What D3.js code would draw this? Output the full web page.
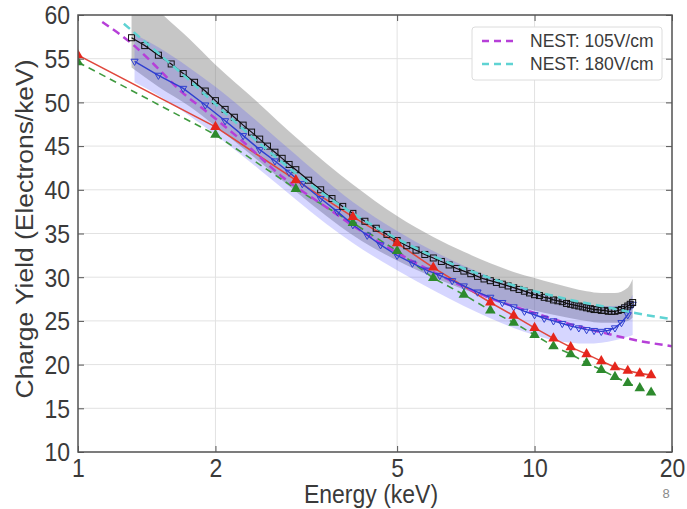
<!DOCTYPE html>
<html>
<head>
<meta charset="utf-8">
<script src="https://cdn.jsdelivr.net/npm/d3@7"></script>
<style>
  body { margin: 0; background: #fff; }
  svg { display: block; }
  text { font-family: "Liberation Sans", Arial, sans-serif; }
</style>
</head>
<body>
<svg id="chart" width="687" height="509"></svg>
<script>
/* ------------------------------- data ------------------------------- */
const xTicks = [1, 2, 5, 10, 20];
const yTicks = [10, 15, 20, 25, 30, 35, 40, 45, 50, 55, 60];

// measured yield, black open squares (centre of grey band)
const blackE = [1.31, 1.4, 1.5, 1.6, 1.7, 1.8, 1.9, 2.0, 2.1, 2.2, 2.3, 2.4, 2.5, 2.6, 2.7, 2.8, 2.9, 3.0,
  3.2, 3.4, 3.6, 3.8, 4.0, 4.25, 4.5, 4.75, 5.0, 5.25, 5.5, 5.75, 6.0, 6.25, 6.5, 6.75, 7.0, 7.25, 7.5, 7.75,
  8.0, 8.25, 8.5, 8.75, 9.0, 9.25, 9.5, 9.75, 10, 10.25, 10.5, 10.75, 11, 11.25, 11.5, 11.75, 12, 12.25,
  12.5, 12.75, 13, 13.25, 13.5, 13.75, 14, 14.25, 14.5, 14.75, 15, 15.25, 15.5, 15.75, 16, 16.2, 16.4];
const blackY = [57.4, 56.5, 55.4, 54.4, 53.3, 52.3, 51.3, 50.2, 49.2, 48.3, 47.4, 46.6, 45.8, 45.0, 44.3, 43.6, 42.9, 42.3,
  41.1, 40.0, 39.0, 38.1, 37.3, 36.4, 35.6, 34.9, 34.2, 33.6, 33.1, 32.6, 32.2, 31.8, 31.4, 31.0, 30.7, 30.4, 30.1, 29.8,
  29.6, 29.4, 29.2, 29.0, 28.8, 28.6, 28.4, 28.2, 28.0, 27.9, 27.7, 27.6, 27.4, 27.3, 27.2, 27.0, 26.9, 26.8,
  26.7, 26.6, 26.5, 26.4, 26.3, 26.3, 26.2, 26.2, 26.1, 26.1, 26.1, 26.2, 26.3, 26.5, 26.7, 26.9, 27.1];

// grey band around black squares
const greyE = [1.31, 1.5, 1.75, 2, 2.5, 3, 3.5, 4, 5, 6, 7, 8, 9, 10, 11, 12, 13, 14, 15, 16, 16.4];
const greyHi = [63.5, 60.5, 57.3, 54.3, 49.8, 46.0, 43.0, 40.6, 37.0, 34.6, 32.9, 31.6, 30.6, 29.9, 29.3, 28.8, 28.4, 28.2, 28.2, 28.8, 29.8];
const greyLo = [54.0, 51.8, 49.6, 47.3, 43.2, 39.8, 37.0, 34.8, 31.9, 30.0, 28.6, 27.6, 26.8, 26.2, 25.7, 25.3, 25.0, 24.8, 24.8, 25.0, 25.4];

// measured yield, blue open triangles
const blueE = [1.33, 1.5, 1.7, 1.9, 2.1, 2.3, 2.5, 2.7, 2.9, 3.1, 3.4, 3.7, 4.0, 4.3, 4.6, 5.0, 5.4, 5.8, 6.2, 6.6,
  7.0, 7.5, 8.0, 8.5, 9.0, 9.5, 10, 10.5, 11, 11.5, 12, 12.5, 13, 13.5, 14, 14.5, 15, 15.5, 16, 16.4];
const blueY = [54.7, 53.1, 51.6, 49.7, 47.9, 46.2, 44.6, 43.3, 42.0, 40.7, 39.0, 37.5, 36.0, 34.8, 33.7, 32.5, 31.6, 30.8, 30.2, 29.6,
  29.0, 28.3, 27.7, 27.1, 26.6, 26.1, 25.7, 25.3, 25.0, 24.7, 24.4, 24.2, 24.0, 23.9, 23.8, 23.9, 24.2, 24.8, 25.7, 26.9];

// blue band
const blueBandE = [1.33, 1.5, 1.75, 2, 2.5, 3, 3.5, 4, 5, 6, 7, 8, 9, 10, 11, 12, 13, 14, 15, 16, 16.4];
const blueHi = [57.8, 56.3, 54.0, 51.8, 47.6, 44.0, 41.0, 38.6, 35.3, 33.0, 31.3, 30.0, 29.0, 28.3, 27.7, 27.2, 26.9, 26.7, 26.7, 27.2, 28.0];
const blueLo = [52.3, 50.8, 48.5, 46.3, 42.3, 38.9, 36.1, 33.9, 30.8, 28.5, 26.7, 25.3, 24.2, 23.4, 22.8, 22.5, 22.4, 22.5, 22.8, 23.2, 23.4];

// red triangles (solid line)
const redE = [1, 2, 3, 4, 5, 6, 8, 9, 10, 11, 12, 13, 14, 15, 16, 17, 18];
const redY = [55.4, 47.2, 41.1, 36.9, 33.9, 31.1, 27.1, 25.6, 24.2, 23.0, 22.0, 21.2, 20.4, 19.7, 19.3, 19.0, 18.8];

// green triangles (dashed line)
const greenE = [1, 2, 3, 4, 5, 6, 7, 8, 9, 10, 11, 12, 13, 14, 15, 16, 17, 18];
const greenY = [54.6, 46.3, 40.1, 36.2, 33.0, 29.9, 28.0, 26.2, 24.8, 23.4, 22.1, 21.2, 20.2, 19.4, 18.6, 17.9, 17.3, 16.8];

// NEST models
const nest105E = [1.13, 1.32, 1.51, 1.67, 1.95, 2.3, 2.8, 3.5, 4, 5, 6, 7, 8, 10, 12, 14, 17, 20];
const nest105Y = [59.2, 56.6, 53.7, 51.4, 48.6, 45.5, 41.5, 38.0, 35.9, 32.8, 30.6, 28.9, 27.6, 25.9, 24.6, 23.7, 22.7, 22.1];
const nest180E = [1.26, 1.54, 1.73, 2.0, 2.5, 3, 3.5, 4, 5, 6, 7, 8, 10, 12, 14, 16.6, 20];
const nest180Y = [59.0, 55.1, 52.8, 49.8, 45.3, 41.9, 39.3, 37.3, 34.4, 32.4, 31.0, 29.9, 28.4, 27.4, 26.7, 25.9, 25.2];

const legendLabels = ['NEST: 105V/cm', 'NEST: 180V/cm'];

/* ------------------------------ layout ------------------------------ */
const svg = d3.select('#chart');
const x = d3.scaleLog().domain([1, 20]).range([78, 672]);
const y = d3.scaleLinear().domain([10, 60]).range([452, 15]);
const axisColour = '#555';
const textColour = '#3a3a3a';
const stretch = 'scale(1,1.1)'; // source picture is a little taller than wide

const zip = (xs, ys) => xs.map((e, i) => [e, ys[i]]);

svg.append('defs').append('clipPath').attr('id', 'plotClip')
    .append('rect').attr('x', 78).attr('y', 15).attr('width', 594).attr('height', 437);

// grid
const grid = svg.append('g');
grid.selectAll('.gx').data(xTicks).enter().append('line')
    .attr('x1', d => x(d)).attr('x2', d => x(d)).attr('y1', 15).attr('y2', 452)
    .attr('stroke', '#e2e2e2').attr('stroke-width', 1);
grid.selectAll('.gy').data(yTicks).enter().append('line')
    .attr('x1', 78).attr('x2', 672).attr('y1', d => y(d)).attr('y2', d => y(d))
    .attr('stroke', '#e2e2e2').attr('stroke-width', 1);

const plot = svg.append('g').attr('clip-path', 'url(#plotClip)');

// bands
const band = (es, lo, hi) => d3.area().curve(d3.curveMonotoneX)
    .x((d, i) => x(es[i])).y0((d, i) => y(lo[i])).y1((d, i) => y(hi[i]))(es);

plot.append('path').attr('d', band(greyE, greyLo, greyHi))
    .attr('fill', 'rgb(120,120,120)').attr('fill-opacity', 0.42);
plot.append('path').attr('d', band(blueBandE, blueLo, blueHi))
    .attr('fill', 'rgb(70,70,255)').attr('fill-opacity', 0.22);

const line = d3.line().x(d => x(d[0])).y(d => y(d[1]));
const smooth = d3.line().curve(d3.curveMonotoneX).x(d => x(d[0])).y(d => y(d[1]));
const tri = d3.symbol().type(d3.symbolTriangle).size(48);

// green
plot.append('path').attr('d', line(zip(greenE, greenY)))
    .attr('fill', 'none').attr('stroke', '#3f9a3f').attr('stroke-width', 1.6).attr('stroke-dasharray', '7,5');
// red
plot.append('path').attr('d', line(zip(redE, redY)))
    .attr('fill', 'none').attr('stroke', '#e0473c').attr('stroke-width', 1.6);

// magenta NEST 105
plot.append('path').attr('d', smooth(zip(nest105E, nest105Y)))
    .attr('fill', 'none').attr('stroke', '#b63fd8').attr('stroke-width', 2.5).attr('stroke-dasharray', '8,5');

// blue
plot.append('path').attr('d', line(zip(blueE, blueY)))
    .attr('fill', 'none').attr('stroke', '#2f3fd0').attr('stroke-width', 1.4);
plot.selectAll('.bm').data(zip(blueE, blueY)).enter().append('path')
    .attr('d', d3.symbol().type(d3.symbolTriangle).size(22))
    .attr('transform', d => `translate(${x(d[0])},${y(d[1])}) rotate(180)`)
    .attr('fill', 'none').attr('stroke', '#2f3fd0').attr('stroke-width', 1);

// black
plot.append('path').attr('d', line(zip(blackE, blackY)))
    .attr('fill', 'none').attr('stroke', '#111').attr('stroke-width', 1.2);
plot.selectAll('.km').data(zip(blackE, blackY)).enter().append('rect')
    .attr('x', d => x(d[0]) - 3).attr('y', d => y(d[1]) - 3).attr('width', 6).attr('height', 6)
    .attr('fill', 'none').attr('stroke', '#111').attr('stroke-width', 1);

// cyan NEST 180
plot.append('path').attr('d', smooth(zip(nest180E, nest180Y)))
    .attr('fill', 'none').attr('stroke', '#5fd3d3').attr('stroke-width', 2.5).attr('stroke-dasharray', '8,5');

// markers on top
plot.selectAll('.gm').data(zip(greenE, greenY)).enter().append('path')
    .attr('d', tri).attr('transform', d => `translate(${x(d[0])},${y(d[1])})`)
    .attr('fill', '#2e8a2e');
plot.selectAll('.rm').data(zip(redE, redY)).enter().append('path')
    .attr('d', tri).attr('transform', d => `translate(${x(d[0])},${y(d[1])})`)
    .attr('fill', '#e5261c');

/* ------------------------------- axes ------------------------------- */
const styleAxis = g => {
    g.select('.domain').remove();
    g.selectAll('.tick line').attr('stroke', axisColour);
    g.selectAll('.tick text').attr('fill', textColour).style('font-size', '23px');
};
const xAxis = svg.append('g').attr('transform', 'translate(0,452)')
    .call(d3.axisBottom(x).tickValues(xTicks).tickFormat(d3.format('d')).tickSizeInner(-6).tickSizeOuter(0).tickPadding(0))
    .call(styleAxis);
xAxis.selectAll('.tick text').attr('dy', null).attr('y', 0)
    .attr('transform', 'translate(0,25) ' + stretch);

svg.append('g').attr('transform', 'translate(0,15)')
    .call(d3.axisTop(x).tickValues(xTicks).tickFormat('').tickSizeInner(-6).tickSizeOuter(0))
    .call(styleAxis);
const yAxis = svg.append('g').attr('transform', 'translate(78,0)')
    .call(d3.axisLeft(y).tickValues(yTicks).tickSizeInner(-6).tickSizeOuter(0).tickPadding(0))
    .call(styleAxis);
yAxis.selectAll('.tick text').attr('x', 0).attr('dy', '0.35em')
    .attr('transform', 'translate(-8,0) ' + stretch);

svg.append('g').attr('transform', 'translate(672,0)')
    .call(d3.axisRight(y).tickValues(yTicks).tickFormat('').tickSizeInner(-6).tickSizeOuter(0))
    .call(styleAxis);

svg.append('rect').attr('x', 78).attr('y', 15).attr('width', 594).attr('height', 437)
    .attr('fill', 'none').attr('stroke', axisColour).attr('stroke-width', 1.5);

svg.append('text').attr('transform', 'translate(371,503) ' + stretch).attr('text-anchor', 'middle')
    .attr('fill', textColour).style('font-size', '23px').text('Energy (keV)');
svg.append('text').attr('transform', 'translate(33,229) rotate(-90) scale(1.1,1)').attr('text-anchor', 'middle')
    .attr('fill', textColour).style('font-size', '24px').text('Charge Yield (Electrons/keV)');
svg.append('text').attr('x', 666).attr('y', 498).attr('text-anchor', 'middle')
    .attr('fill', '#8a8a8a').style('font-size', '13px').text('8');

/* ------------------------------ legend ------------------------------ */
const legend = svg.append('g');
legend.append('rect').attr('x', 472).attr('y', 27).attr('width', 190).attr('height', 53).attr('rx', 3)
    .attr('fill', '#fff').attr('stroke', '#dcdcdc');
const legendColours = ['#b63fd8', '#5fd3d3'];
legendLabels.forEach((lab, i) => {
    const ly = 41 + i * 23;
    legend.append('line').attr('x1', 482).attr('x2', 515).attr('y1', ly).attr('y2', ly)
        .attr('stroke', legendColours[i]).attr('stroke-width', 2.5).attr('stroke-dasharray', '7,5');
    legend.append('text').attr('x', 530).attr('y', ly + 6).attr('fill', textColour)
        .style('font-size', '17.5px').text(lab);
});
</script>
</body>
</html>
